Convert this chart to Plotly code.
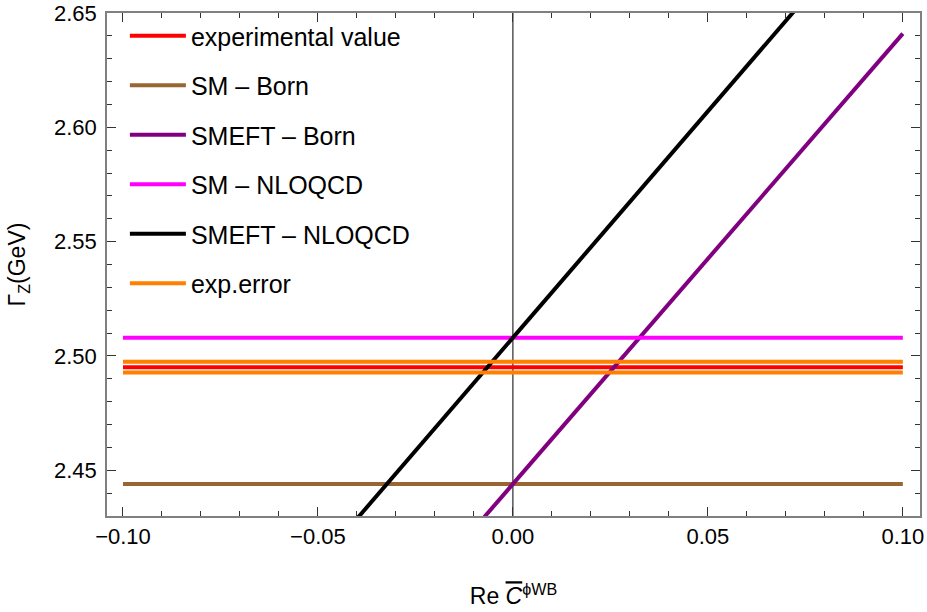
import plotly.graph_objects as go

# Data
x_ends = [-0.10, 0.10]
exp_value = [2.4951, 2.4951]
sm_born = [2.4440, 2.4440]
smeft_born = [2.2470, 2.6410]
sm_nlo = [2.5080, 2.5080]
smeft_nlo = [2.3100, 2.7060]
exp_err_hi = [2.4975, 2.4975]
exp_err_lo = [2.4928, 2.4928]

names = ["experimental value", "SM \u2013 Born", "SMEFT \u2013 Born",
         "SM \u2013 NLOQCD", "SMEFT \u2013 NLOQCD", "exp.error"]
colors = ["#FF0000", "#996633", "#800080", "#FF00FF", "#000000", "#FF8000"]

FONT = "Liberation Sans, Arial, Helvetica, sans-serif"

fig = go.Figure()
series = [exp_value, sm_born, smeft_born, sm_nlo, smeft_nlo]
for i, ys in enumerate(series):
    fig.add_trace(go.Scatter(x=x_ends, y=ys, mode="lines", name=names[i],
                             legendgroup=f"g{i}",
                             line=dict(color=colors[i], width=4)))
fig.add_trace(go.Scatter(x=x_ends + [None] + x_ends,
                         y=exp_err_hi + [None] + exp_err_lo,
                         mode="lines", name=names[5], legendgroup="g5",
                         line=dict(color=colors[5], width=4)))

fig.add_shape(type="line", x0=0, x1=0, y0=0, y1=1, xref="x", yref="paper",
              line=dict(color="black", width=1), layer="below")

axis_common = dict(showline=True, linecolor="#808080", linewidth=1.5,
                   mirror="allticks", ticks="inside", tickcolor="#333333",
                   showgrid=False, zeroline=False, tickformat=".2f",
                   automargin=False, ticklabeloverflow="allow",
                   tickfont=dict(family=FONT, size=22, color="black"))

fig.update_xaxes(range=[-0.1041, 0.1044], tickvals=[-0.10, -0.05, 0.0, 0.05, 0.10],
                 ticklen=9, tickwidth=1,
                 minor=dict(dtick=0.01, ticks="inside", ticklen=5, tickcolor="#333333"),
                 title=dict(text="Re <span style='text-decoration:overline'><i>C</i></span><sup>\u03d5WB</sup>",
                            font=dict(family=FONT, size=23, color="black"), standoff=40),
                 **axis_common)
fig.update_yaxes(range=[2.43, 2.65], tickvals=[2.45, 2.50, 2.55, 2.60, 2.65],
                 ticklen=9, tickwidth=1, ticklabelstandoff=4,
                 minor=dict(dtick=0.01, ticks="inside", ticklen=5, tickcolor="#333333"),
                 title=dict(text="\u0393<sub>Z</sub>(GeV)",
                            font=dict(family=FONT, size=23, color="black"), standoff=22),
                 **axis_common)

fig.update_layout(
    width=927, height=612,
    margin=dict(l=107, r=7, t=13, b=96),
    plot_bgcolor="white", paper_bgcolor="white",
    font=dict(family=FONT, color="black"),
    legend=dict(x=0.022, y=1.0, xanchor="left", yanchor="top",
                bgcolor="rgba(0,0,0,0)", tracegroupgap=14, itemwidth=56,
                font=dict(family=FONT, size=25, color="black")),
)

# Remove the default page-body margin so the figure fills the window exactly.
fig.write_html("out.html",
               config={"displayModeBar": False},
               post_script="document.body.style.margin='0';document.body.style.overflow='hidden';")
